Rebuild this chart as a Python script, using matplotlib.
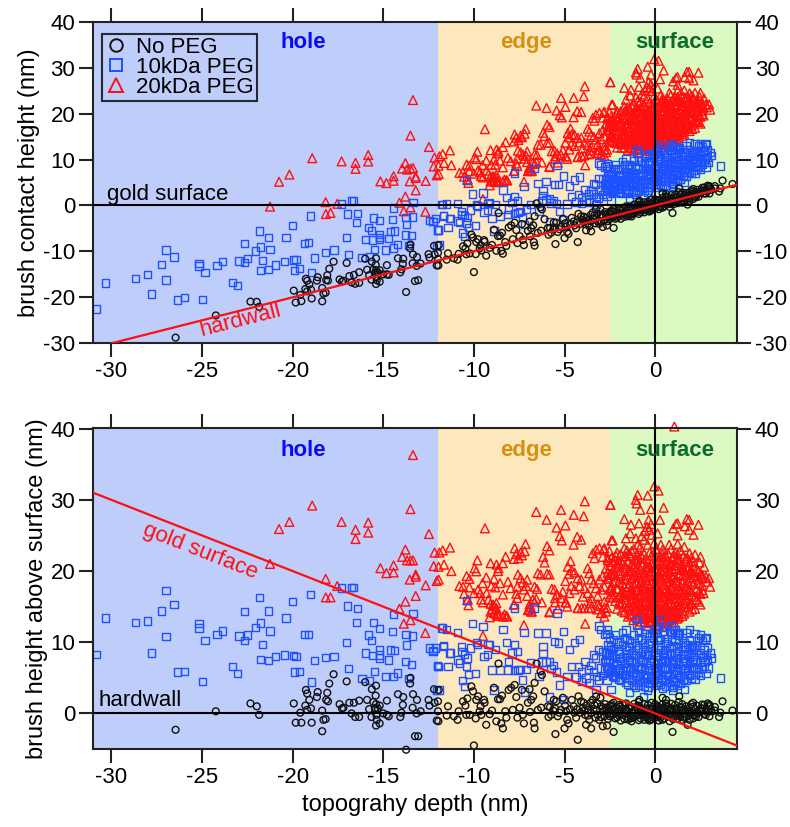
import numpy as np
import matplotlib
matplotlib.use("Agg")
import matplotlib.pyplot as plt
from matplotlib.lines import Line2D

plt.rcParams['font.family'] = ['Liberation Sans', 'DejaVu Sans']
plt.rcParams['axes.unicode_minus'] = False

# ---------------------------------------------------------------------------
# Data: (topography depth, brush height above surface) in nm.
# Brush contact height = height above surface + topography depth.
# ---------------------------------------------------------------------------
no_peg_hole = [
    (-26.46, -2.3), (-24.24, 0.3), (-22.33, 1.4), (-21.98, 1.0), (-21.85, -0.2), (-19.94, 1.4),
    (-19.83, -1.3), (-19.52, -1.3), (-19.58, 0.1), (-19.3, 1.1), (-19.2, 0.5), (-19.27, 3.3),
    (-19.2, 2.8), (-19.08, 1.9), (-18.99, 0.7), (-18.95, -1.3), (-18.66, 2.3), (-18.62, 3.0),
    (-18.37, 0.4), (-18.37, -2.5), (-18.3, -0.9), (-18.18, -0.8), (-18.15, 1.9), (-18.05, 1.7),
    (-18.09, 2.9), (-17.98, 4.2), (-17.74, 5.5), (-17.41, 1.3), (-17.28, 0.7), (-17.2, 0.8),
    (-17.02, 4.5), (-16.87, 1.5), (-16.62, 1.5), (-16.75, 0.0), (-16.55, -0.5), (-16.33, -0.5),
    (-16.33, 1.8), (-16.0, 4.4), (-15.89, 1.9), (-15.78, 0.6), (-15.65, -0.5), (-15.63, 3.4),
    (-15.55, 1.6), (-15.46, 0.7), (-15.42, 0.7), (-15.4, 1.3), (-15.38, -0.2), (-15.36, -0.9),
    (-15.4, -1.7), (-15.42, 2.5), (-15.4, 3.9), (-15.3, 0.7), (-15.2, 1.1), (-14.8, 1.8),
    (-15.0, 0.0), (-14.8, -0.2), (-14.7, -0.4), (-15.2, -1.4), (-14.19, 2.7), (-14.0, 0.1),
    (-14.06, -0.5), (-13.9, 2.3), (-13.92, 1.2), (-13.5, 5.0), (-13.52, 4.2), (-13.36, 2.7),
    (-13.38, 0.8), (-13.14, 1.9), (-13.16, 0.0), (-12.94, 0.3), (-13.25, -3.2), (-13.07, -3.2),
    (-13.74, -5.1), (-12.5, 1.9), (-12.45, 1.1), (-12.17, 1.5), (-12.2, 3.4), (-12.05, -1.0),
]
no_peg_edge = [
    (-11.94, 3.3), (-11.98, 1.7), (-11.98, 0.3), (-11.96, -1.1), (-11.43, 1.0), (-11.1, -0.4),
    (-10.84, 0.3), (-10.6, 1.7), (-10.47, 1.1), (-10.36, 2.1), (-10.42, -0.2), (-10.23, -0.2),
    (-10.14, 3.8), (-10.05, 3.1), (-10.0, -4.5), (-9.87, 1.9), (-9.77, 2.4), (-9.63, 1.0),
    (-9.68, 0.3), (-9.59, -0.2), (-9.44, 1.9), (-9.41, 1.5), (-9.32, -1.6), (-9.13, -0.1),
    (-8.89, 3.6), (-8.76, -1.1), (-8.67, 2.0), (-8.64, 7.0), (-8.56, 2.0), (-8.45, 2.5),
    (-8.49, -1.4), (-8.4, -2.1), (-8.27, 0.3), (-8.21, -0.6), (-8.08, 3.3), (-7.94, 3.6),
    (-7.75, 4.0), (-7.85, 0.5), (-7.66, 2.3), (-7.48, 0.8), (-7.35, 3.3), (-7.3, -0.2),
    (-7.24, -1.4), (-7.02, 1.5), (-6.93, 3.4), (-6.84, 1.9), (-6.73, 2.4), (-6.65, 4.3),
    (-6.69, -1.3), (-6.65, -2.1), (-6.54, 7.0), (-6.32, 5.9), (-6.25, 5.4), (-6.47, 0.5),
    (-6.29, 0.8), (-6.1, 3.1), (-5.92, 1.0), (-5.88, -0.5), (-5.74, -0.2), (-5.62, 0.4),
    (-5.52, 0.7), (-5.59, 1.9), (-5.46, 1.7), (-5.5, -2.9), (-5.37, -0.4), (-5.28, 0.1),
    (-5.19, 0.5), (-5.09, 2.2), (-4.97, 1.1), (-4.91, 0.3), (-4.85, -0.9), (-4.78, -1.4),
    (-5.0, -2.1), (-4.6, 1.9), (-4.49, 1.0), (-4.45, 0.1), (-4.36, -0.6), (-4.27, -3.7),
    (-4.23, 2.4), (-4.08, 1.7), (-3.94, 1.5), (-4.12, 0.1), (-3.99, 0.8), (-3.86, -0.2),
    (-3.79, 1.1), (-3.68, 0.5), (-3.63, -0.9), (-3.53, 0.1), (-3.44, 1.9), (-3.35, 1.2),
    (-3.24, 0.5), (-3.17, -0.2), (-3.09, -0.9), (-2.98, 1.0), (-2.89, 0.3), (-2.8, -0.4),
    (-2.71, 0.8), (-2.61, 0.1), (-2.52, 0.5), (-2.43, -0.2), (-2.34, 1.0), (-3.26, 2.4),
    (-3.02, 2.2), (-2.89, -1.8), (-2.65, -1.7), (-3.81, -1.6), (-3.53, -2.1), (-3.9, 0.4),
    (-3.7, -0.3), (-3.4, 0.6), (-3.2, 1.4), (-3.0, -0.5), (-2.9, 0.7), (-2.75, 1.3),
    (-2.6, -0.8), (-3.55, 1.5), (-3.3, -0.6), (-4.3, 0.6), (-4.7, 0.6), (-5.8, 0.9),
    (-6.9, 0.2), (-7.6, -0.6), (-9.0, 0.4), (-9.9, -0.7), (-10.9, -0.9), (-11.5, -0.3),
]
no_peg_surface = [
    (-2.3, 1.5), (-1.6, 1.4), (-0.9, 1.6), (-0.2, 1.5), (0.6, 1.4), (1.3, 1.6), (2.1, 1.5), (2.9, 1.4),
    (-2.5, 1.1), (-2.0, 1.2), (-1.4, 1.0), (-0.9, 1.1), (-0.4, 1.2), (0.1, 1.0), (0.6, 1.1),
    (1.1, 1.2), (1.7, 1.0), (2.3, 1.1), (3.0, 1.2),
    (-2.2, 0.8), (-1.8, 0.7), (-1.3, 0.9), (-0.8, 0.8), (-0.3, 0.7), (0.2, 0.9), (0.5, 0.8),
    (0.9, 0.7), (1.4, 0.9), (1.9, 0.8), (2.6, 0.7), (3.3, 0.9),
    (-2.4, 0.5), (-2.0, 0.4), (-1.6, 0.6), (-1.1, 0.5), (-0.6, 0.4), (-0.2, 0.6), (0.1, 0.5),
    (0.4, 0.4), (0.8, 0.6), (1.2, 0.5), (1.7, 0.4), (2.2, 0.6), (2.8, 0.5),
    (-2.6, 0.2), (-2.1, 0.3), (-1.7, 0.1), (-1.3, 0.2), (-0.9, 0.3), (-0.5, 0.1), (-0.1, 0.2),
    (0.3, 0.3), (0.6, 0.1), (1.0, 0.2), (1.5, 0.3), (2.0, 0.1), (2.5, 0.2), (3.1, 0.3), (3.6, 0.1),
    (-2.3, -0.1), (-1.9, 0.0), (-1.4, -0.2), (-1.0, -0.1), (-0.7, 0.0), (-0.3, -0.2), (0.0, -0.1),
    (0.4, 0.0), (0.7, -0.2), (1.2, -0.1), (1.6, 0.0), (2.2, -0.2), (2.7, -0.1),
    (-2.5, -0.4), (-2.0, -0.3), (-1.5, -0.5), (-1.1, -0.4), (-0.6, -0.3), (-0.2, -0.5), (0.2, -0.4),
    (0.6, -0.3), (0.9, -0.5), (1.4, -0.4), (1.9, -0.3), (2.4, -0.5), (3.0, -0.4),
    (-2.2, -0.7), (-1.7, -0.8), (-1.2, -0.6), (-0.8, -0.7), (-0.4, -0.8), (0.0, -0.6), (0.5, -0.7),
    (1.0, -0.8), (1.6, -0.6), (2.1, -0.7),
    (-1.9, -1.0), (-1.3, -1.1), (-0.6, -0.9), (0.2, -1.0), (0.8, -1.1), (1.5, -0.9),
    (-2.29, -2.6), (0.96, -2.6), (1.79, -1.6), (3.72, 1.7), (4.27, 0.4), (3.53, -0.5),
    (0.41, 2.2), (0.6, 1.9), (1.33, 2.4), (-0.87, 1.9), (2.71, 1.2), (2.98, 1.0),
    (2.52, 0.7), (2.16, -0.2), (-0.32, -1.0), (-1.33, -0.7),
    (-2.4, 1.3), (-1.8, 1.25), (-1.15, 1.35), (-0.6, 1.3), (0.0, 1.3), (0.4, 1.25), (0.9, 1.35),
    (1.5, 1.3), (2.0, 1.3), (2.6, 1.25),
    (-2.7, 0.65), (-1.95, 0.95), (-1.45, 0.7), (-1.0, 0.95), (-0.5, 0.7), (-0.05, 0.95),
    (0.35, 0.65), (0.7, 0.95), (1.1, 0.7), (1.6, 0.65), (2.1, 0.95), (2.45, 0.45), (3.05, 0.65),
    (-2.2, 0.05), (-1.55, 0.35), (-1.15, 0.05), (-0.75, 0.3), (-0.4, 0.15), (0.15, 0.35),
    (0.5, -0.05), (0.85, 0.35), (1.3, 0.1), (1.8, 0.25), (2.35, 0.1), (2.85, 0.2), (3.3, 0.4),
    (-2.1, -0.55), (-1.75, -0.2), (-1.3, -0.45), (-0.85, -0.25), (-0.45, -0.5), (-0.1, -0.3),
    (0.3, -0.6), (0.75, -0.45), (1.15, -0.35), (1.7, -0.5), (2.25, -0.45), (2.8, -0.2),
    (-1.5, -0.85), (-0.9, -0.95), (-0.2, -0.85), (0.4, -0.9), (1.25, -0.75), (1.9, -0.9),
]

peg10_hole = [
    (-30.83, 8.3), (-30.31, 13.4), (-28.68, 12.8), (-28.02, 13.0), (-27.78, 8.5), (-27.25, 14.4),
    (-26.99, 17.3), (-26.99, 10.8), (-26.55, 15.3), (-26.35, 5.8), (-25.96, 5.9), (-25.17, 12.6),
    (-25.17, 12.0), (-24.83, 10.2), (-24.97, 4.5), (-24.17, 11.1), (-23.86, 11.6), (-23.32, 6.6),
    (-23.06, 5.6), (-22.97, 10.9), (-22.66, 10.2), (-22.5, 11.0), (-22.65, 14.3), (-22.04, 12.1),
    (-21.83, 16.3), (-21.76, 12.7), (-21.67, 9.7), (-21.78, 7.6), (-21.34, 7.4), (-21.32, 14.4),
    (-21.25, 11.6), (-20.95, 8.0), (-20.44, 8.2), (-20.37, 13.4), (-20.0, 15.7), (-19.94, 8.1),
    (-19.82, 8.0), (-19.91, 5.8), (-19.62, 5.9), (-19.36, 11.1), (-19.12, 11.1), (-19.03, 16.7),
    (-18.95, 4.4), (-18.81, 7.4), (-18.18, 7.9), (-17.71, 8.0), (-17.32, 17.6), (-16.75, 17.7),
    (-16.64, 17.7), (-16.97, 15.1), (-16.42, 14.7), (-16.48, 12.8), (-17.04, 10.0), (-16.93, 6.3),
    (-15.83, 11.0), (-15.98, 8.5), (-15.65, 10.2), (-15.54, 12.8), (-15.2, 8.9), (-15.2, 8.2),
    (-15.2, 7.8), (-15.6, 8.1), (-15.49, 5.9), (-15.75, 4.6), (-16.17, 4.9), (-15.21, 11.9),
    (-14.89, 5.2), (-14.72, 7.5), (-14.61, 8.9), (-14.39, 8.8), (-14.5, 11.5), (-14.44, 13.9),
    (-14.22, 5.7), (-14.44, 5.2), (-13.74, 11.1), (-13.72, 9.6), (-13.76, 7.3), (-13.6, 4.9),
    (-13.45, 6.9), (-13.36, 14.0), (-13.39, 10.9), (-12.46, 9.2), (-12.11, 9.2), (-12.26, 8.8),
    (-12.02, 6.7), (-12.05, 3.2), (-12.25, 8.7),
]
peg10_edge = [
    (-11.98, 6.6), (-11.9, 3.3), (-11.79, 12.0), (-11.5, 11.8), (-11.68, 9.4), (-11.43, 6.6),
    (-11.35, 8.5), (-11.28, 8.5), (-10.91, 11.4), (-10.88, 7.5), (-10.8, 7.1), (-10.69, 9.4),
    (-10.65, 8.7), (-10.51, 8.3), (-10.42, 6.6), (-10.36, 7.8), (-10.62, 4.6), (-10.51, 3.8),
    (-10.29, 5.5), (-10.2, 9.2), (-10.07, 12.6), (-9.92, 5.6), (-9.87, 10.0), (-9.81, 9.7),
    (-9.5, 12.2), (-9.44, 8.0), (-9.26, 8.3), (-9.22, 9.7), (-9.13, 9.7), (-9.0, 6.1),
    (-8.89, 3.3), (-8.82, 9.0), (-8.56, 6.1), (-8.4, 11.8), (-8.21, 10.0), (-8.12, 6.1),
    (-8.08, 7.3), (-7.9, 8.5), (-7.75, 9.7), (-7.61, 8.7), (-7.75, 6.0), (-7.57, 6.1),
    (-7.46, 6.2), (-7.3, 4.7), (-7.24, 11.4), (-7.2, 3.0), (-7.08, 6.2), (-6.87, 7.1),
    (-6.47, 11.3), (-6.03, 11.3), (-6.18, 9.4), (-6.18, 8.4), (-6.4, 5.2), (-6.25, 7.2),
    (-6.03, 7.2), (-5.81, 7.3), (-5.74, 6.3), (-5.81, 2.3), (-5.62, 6.7), (-5.55, 10.1),
    (-5.33, 9.9), (-5.44, 5.8), (-5.26, 4.0), (-5.07, 11.5), (-4.87, 5.2), (-4.73, 9.0),
    (-4.63, 6.6), (-5.04, 2.0), (-4.45, 10.0), (-4.17, 10.4), (-4.23, 6.6), (-4.08, 5.8),
    (-3.86, 7.3), (-3.68, 6.2), (-3.53, 6.7), (-3.39, 8.2), (-3.28, 7.8), (-3.13, 9.0),
    (-3.09, 12.3), (-2.98, 11.8), (-2.76, 11.1), (-3.13, 4.7), (-2.89, 5.3), (-2.65, 4.7),
    (-3.02, 6.4), (-2.8, 6.1), (-2.61, 6.6), (-2.43, 5.9), (-2.34, 5.2), (-3.26, 3.4),
    (-2.89, 8.7), (-2.71, 8.5), (-2.58, 9.0), (-2.52, 7.5), (-2.76, 7.3), (-3.39, 5.9),
    (-3.25, 5.2), (-3.81, 5.0), (-3.63, 4.3), (-4.36, 5.1), (-4.08, 4.5), (-10.4, 15.9),
    (-7.75, 14.8), (-6.69, 14.8), (-5.42, 14.1), (-11.74, 12.0), (-11.66, 9.5), (-11.97, 6.6),
]
peg10_surface = [
    (-1.0, 12.4), (0.2, 12.2), (0.9, 12.3),
    (-1.6, 11.7), (-0.5, 11.8), (0.4, 11.6), (1.1, 11.7), (1.9, 11.8),
    (-2.2, 11.1), (-1.2, 11.0), (-0.3, 11.2), (0.5, 11.1), (1.3, 11.0), (2.2, 11.2),
    (-2.5, 10.6), (-1.7, 10.5), (-0.9, 10.7), (-0.1, 10.6), (0.7, 10.5), (1.5, 10.7), (2.4, 10.6),
    (-2.0, 10.1), (-1.4, 10.2), (-0.6, 10.0), (0.1, 10.2), (0.9, 10.1), (1.6, 10.0), (2.6, 10.2),
    (-2.6, 9.6), (-1.8, 9.7), (-1.1, 9.5), (-0.4, 9.7), (0.3, 9.6), (1.0, 9.5), (1.8, 9.7), (2.3, 9.6),
    (-2.3, 9.1), (-1.6, 9.0), (-0.9, 9.2), (-0.2, 9.1), (0.5, 9.0), (1.2, 9.2), (1.9, 9.1), (2.7, 9.0),
    (-2.7, 8.6), (-2.0, 8.7), (-1.3, 8.5), (-0.7, 8.7), (0.0, 8.6), (0.6, 8.5), (1.3, 8.7),
    (2.0, 8.6), (2.5, 8.5),
    (-2.4, 8.1), (-1.8, 8.0), (-1.1, 8.2), (-0.5, 8.1), (0.2, 8.0), (0.8, 8.2), (1.5, 8.1),
    (2.1, 8.0), (2.8, 8.2),
    (-2.6, 7.6), (-2.0, 7.7), (-1.4, 7.5), (-0.8, 7.6), (-0.2, 7.7), (0.4, 7.5), (1.0, 7.6),
    (1.6, 7.7), (2.3, 7.5), (2.9, 7.6),
    (-2.3, 7.1), (-1.7, 7.0), (-1.1, 7.2), (-0.5, 7.1), (0.1, 7.0), (0.7, 7.2), (1.3, 7.1),
    (1.9, 7.0), (2.5, 7.2),
    (-2.7, 6.6), (-2.1, 6.7), (-1.5, 6.5), (-0.9, 6.6), (-0.3, 6.7), (0.3, 6.5), (0.9, 6.6),
    (1.5, 6.7), (2.1, 6.5), (2.7, 6.6),
    (-2.4, 6.1), (-1.8, 6.0), (-1.2, 6.2), (-0.6, 6.1), (0.0, 6.0), (0.6, 6.2), (1.2, 6.1),
    (1.8, 6.0), (2.4, 6.2),
    (-2.6, 5.6), (-2.0, 5.7), (-1.4, 5.5), (-0.8, 5.6), (-0.2, 5.7), (0.4, 5.5), (1.0, 5.6),
    (1.6, 5.7), (2.2, 5.5), (2.8, 5.6),
    (-2.2, 5.1), (-1.6, 5.0), (-1.0, 5.2), (-0.4, 5.1), (0.2, 5.0), (0.8, 5.2), (1.4, 5.1), (2.0, 5.0),
    (-1.9, 4.6), (-1.3, 4.7), (-0.7, 4.5), (-0.1, 4.6), (0.5, 4.7), (1.1, 4.5), (1.7, 4.6),
    (-1.5, 4.1), (-0.9, 4.0), (-0.3, 4.2), (0.3, 4.1), (0.9, 4.0), (1.4, 4.2),
    (-1.1, 3.6), (-0.4, 3.7), (0.4, 3.5), (1.0, 3.6),
    (-2.1, 9.9), (-1.3, 9.9), (-0.3, 9.9), (0.6, 9.8), (1.3, 9.9), (2.0, 9.4),
    (-2.4, 8.9), (-1.6, 8.4), (-1.0, 8.9), (-0.4, 8.4), (0.3, 8.9), (0.9, 8.4), (1.6, 8.4), (2.3, 8.9),
    (-2.2, 7.9), (-1.5, 7.9), (-0.9, 7.9), (-0.2, 8.3), (0.5, 7.8), (1.2, 7.9), (1.9, 7.9), (2.6, 7.9),
    (-2.5, 7.3), (-1.9, 7.4), (-1.3, 7.3), (-0.7, 7.4), (-0.1, 7.3), (0.5, 7.4), (1.1, 7.3),
    (1.7, 7.4), (2.2, 7.3),
    (-2.2, 6.3), (-1.6, 6.4), (-1.0, 6.3), (-0.4, 6.4), (0.2, 6.3), (0.8, 6.4), (1.4, 6.3),
    (2.0, 6.4), (2.6, 6.3),
    (-2.3, 5.4), (-1.7, 5.3), (-1.1, 5.4), (-0.5, 5.3), (0.1, 5.4), (0.7, 5.3), (1.3, 5.4),
    (1.9, 5.3), (2.5, 5.3),
    (-1.6, 4.4), (-1.0, 4.3), (-0.4, 4.4), (0.2, 4.3), (0.8, 4.4), (1.4, 4.3),
    (-1.8, 11.35), (-0.9, 11.45), (0.0, 11.35), (0.85, 11.4), (1.7, 11.3), (2.5, 11.0),
    (-2.3, 10.35), (-1.55, 10.35), (-0.75, 10.45), (0.25, 10.4), (1.1, 10.35), (1.9, 10.3),
    (2.75, 10.45),
    (-2.45, 9.35), (-1.45, 9.35), (-0.6, 9.4), (0.15, 9.35), (0.8, 9.25), (1.5, 9.4), (2.15, 9.25),
    (2.9, 9.3),
    (-2.55, 8.35), (-1.95, 8.35), (-1.2, 8.25), (-0.35, 8.35), (0.45, 8.25), (1.1, 8.35),
    (1.8, 8.3), (2.5, 8.3), (3.05, 8.5),
    (-2.75, 7.15), (-2.1, 7.05), (-1.5, 7.15), (-0.8, 7.25), (-0.25, 7.1), (0.35, 7.15),
    (0.95, 7.05), (1.55, 7.15), (2.05, 7.2), (2.75, 7.3),
    (-2.55, 6.35), (-1.95, 6.25), (-1.35, 6.45), (-0.75, 6.3), (-0.05, 6.4), (0.55, 6.35),
    (1.1, 6.45), (1.65, 6.35), (2.3, 6.4), (2.95, 6.4),
    (-2.45, 5.8), (-1.85, 5.45), (-1.25, 5.8), (-0.6, 5.45), (0.05, 5.8), (0.6, 5.5), (1.2, 5.8),
    (1.8, 5.45), (2.4, 5.8),
    (-2.0, 4.85), (-1.45, 4.9), (-0.85, 4.85), (-0.25, 4.9), (0.35, 4.85), (0.95, 4.9),
    (1.55, 4.85), (2.2, 4.8),
    (-1.2, 3.95), (-0.6, 3.85), (0.05, 3.95), (0.6, 3.8), (1.2, 3.95),
    (-2.65, 11.8), (-2.65, 11.2), (3.62, 5.0), (3.11, 7.8), (2.85, 10.7), (2.06, 9.5),
    (1.61, 3.4), (1.33, 11.3), (1.2, 11.2), (0.87, 12.3), (1.02, 11.8), (0.23, 13.1),
    (0.05, 11.8), (-1.0, 13.2), (-0.6, 11.2), (-2.43, 3.4), (-1.42, 2.9), (-0.41, 3.3),
    (0.96, 3.3), (-0.63, 2.4),
]

peg20_hole = [
    (-13.36, 36.3), (-18.92, 29.2), (-20.75, 25.9), (-20.18, 26.9), (-17.3, 26.9), (-16.53, 25.8),
    (-15.83, 26.8), (-15.83, 25.4), (-16.53, 24.5), (-13.5, 28.7), (-12.48, 25.2), (-13.78, 23.0),
    (-13.96, 22.0), (-13.69, 21.5), (-13.5, 21.5), (-13.36, 21.5), (-12.17, 22.6), (-12.22, 20.7),
    (-15.16, 20.4), (-14.83, 19.7), (-14.43, 20.8), (-14.43, 19.8), (-13.21, 19.5), (-13.21, 19.2),
    (-13.54, 18.8), (-12.66, 18.0), (-13.21, 16.5), (-13.78, 15.7), (-14.11, 14.7), (-13.5, 13.1),
    (-13.87, 12.6), (-12.68, 11.3), (-12.05, 18.6), (-21.25, 21.0), (-18.18, 18.9), (-17.54, 17.9),
    (-18.17, 16.3), (-17.91, 16.3),
]
peg20_edge = [
    (-11.9, 22.6), (-11.95, 20.6), (-11.94, 18.8), (-11.72, 22.9), (-11.32, 23.3), (-11.65, 20.9),
    (-11.24, 20.0), (-9.81, 21.5), (-9.39, 26.0), (-10.4, 19.3), (-10.25, 18.9), (-10.8, 17.9),
    (-10.6, 17.8), (-10.25, 17.7), (-10.54, 16.8), (-10.34, 16.0), (-10.3, 15.2), (-9.96, 20.4),
    (-9.87, 19.96), (-9.77, 17.4), (-9.99, 16.9), (-9.65, 16.9), (-9.52, 18.3), (-9.32, 19.1),
    (-9.08, 21.1), (-8.75, 20.9), (-8.64, 20.4), (-8.67, 20.0), (-8.4, 21.1), (-8.25, 22.0),
    (-8.89, 18.9), (-9.04, 17.9), (-8.82, 17.7), (-9.3, 16.9), (-9.6, 16.0), (-9.2, 16.0),
    (-8.95, 15.3), (-8.76, 14.8), (-9.08, 14.3), (-8.89, 14.1), (-8.73, 13.9), (-8.31, 13.9),
    (-8.16, 13.6), (-8.56, 18.3), (-8.4, 16.7), (-8.12, 18.5), (-7.75, 23.2), (-7.66, 22.4),
    (-7.42, 22.6), (-7.35, 22.2), (-7.2, 22.8), (-7.15, 23.8), (-7.79, 21.7), (-7.54, 21.8),
    (-7.97, 17.6), (-7.61, 17.8), (-7.3, 18.4), (-7.06, 18.8), (-7.11, 17.9), (-7.24, 17.4),
    (-7.57, 19.5), (-7.42, 19.0), (-7.66, 16.8), (-7.61, 16.2), (-7.79, 15.3), (-7.06, 16.5),
    (-6.93, 15.3), (-6.87, 14.95), (-6.56, 28.3), (-6.65, 17.8), (-6.52, 17.5), (-6.75, 16.0),
    (-6.56, 16.1), (-6.47, 19.7), (-6.32, 19.5), (-6.18, 22.0), (-6.1, 21.2), (-5.99, 27.2),
    (-5.96, 23.5), (-5.83, 22.9), (-5.96, 19.6), (-5.83, 19.5), (-5.7, 17.5), (-5.55, 17.4),
    (-5.52, 16.2), (-5.41, 16.7), (-5.44, 26.1), (-5.26, 24.9), (-5.15, 24.3), (-4.95, 26.4),
    (-5.19, 28.6), (-4.67, 21.4), (-4.82, 20.6), (-4.6, 20.1), (-4.76, 19.6), (-4.45, 19.8),
    (-4.95, 18.6), (-4.63, 17.9), (-4.45, 17.4), (-4.73, 16.9), (-4.49, 27.9), (-3.94, 27.7),
    (-3.88, 29.8), (-4.5, 23.7), (-4.3, 24.8), (-4.08, 24.4), (-5.09, 17.1), (-5.19, 16.2),
    (-4.91, 15.6), (-4.85, 15.0), (-5.83, 14.2), (-5.37, 14.7), (-4.27, 19.0), (-4.08, 18.8),
    (-4.17, 17.9), (-3.9, 17.6), (-3.99, 16.4), (-3.72, 20.4), (-3.63, 19.7), (-3.53, 18.8),
    (-3.39, 18.3), (-3.26, 17.6), (-3.72, 16.9), (-3.53, 16.2), (-3.17, 16.5), (-2.98, 17.4),
    (-3.07, 18.8), (-2.89, 19.3), (-3.44, 22.5), (-3.26, 23.0), (-3.07, 23.2), (-2.84, 23.0),
    (-2.89, 22.0), (-2.61, 21.5), (-2.52, 22.8), (-2.43, 19.7), (-2.61, 18.9), (-2.47, 17.6),
    (-2.4, 16.7), (-2.8, 15.7), (-3.07, 15.1), (-3.2, 14.6), (-3.53, 14.8), (-3.9, 14.8),
    (-4.27, 14.8), (-2.65, 14.8), (-2.98, 14.1), (-2.8, 13.6), (-2.47, 29.3), (-2.34, 24.3),
    (-2.71, 20.4), (-3.35, 21.8), (-9.13, 13.5), (-8.67, 14.0), (-8.4, 13.6), (-7.02, 14.5),
    (-6.84, 14.3), (-10.36, 15.9), (-9.5, 15.6), (-9.08, 15.4), (-8.89, 15.1), (-8.76, 15.5),
    (-9.0, 14.6), (-8.64, 13.7), (-8.21, 13.7), (-7.79, 15.3), (-7.24, 12.4), (-9.5, 10.9),
    (-6.93, 14.6), (-6.8, 14.3), (-6.65, 15.7), (-6.25, 15.6), (-5.83, 14.3), (-5.52, 15.6),
    (-4.95, 15.6), (-4.27, 14.8), (-4.05, 14.8), (-3.68, 14.8), (-3.86, 12.6), (-3.57, 15.5),
    (-3.17, 15.3), (-2.8, 14.9), (-2.71, 14.3), (-2.98, 14.1),
]
peg20_surface = [
    (1.06, 40.3),
    (-0.05, 31.9), (0.19, 31.3), (-0.96, 30.7), (-1.06, 30.0), (-1.02, 29.5), (-0.41, 30.6),
    (-0.82, 28.6), (-0.23, 28.7), (0.47, 28.9), (-2.47, 29.3), (-1.7, 27.3), (-1.33, 26.5),
    (-0.89, 26.7), (-0.36, 27.2), (-0.23, 26.6), (-0.45, 26.2), (-0.56, 25.6), (-0.32, 25.8),
    (0.27, 27.2), (-1.37, 25.3), (-1.61, 24.6), (-1.06, 24.6), (-0.74, 24.9), (-0.18, 25.1),
    (0.14, 25.3), (1.0, 26.0), (1.15, 26.6), (1.24, 26.7), (1.75, 27.3), (1.88, 27.2),
    (1.64, 26.3), (1.88, 25.8), (2.12, 25.1), (2.39, 26.5), (1.24, 25.0), (-2.4, 24.3),
    (0.78, 23.7), (1.24, 23.8), (1.61, 23.4), (0.87, 23.1), (0.32, 23.7), (0.41, 23.0),
    (-0.05, 23.9), (0.05, 23.1), (-0.6, 24.4), (-0.41, 23.7), (-0.82, 23.4), (-1.7, 23.2),
    (-1.55, 22.9), (-1.18, 23.1), (-0.96, 23.7), (-2.62, 21.8), (-2.8, 23.2), (-2.03, 21.4),
    (-2.07, 20.9), (-1.61, 22.1), (-1.37, 22.2), (-1.11, 21.6), (-0.78, 22.2), (-0.51, 21.8),
    (0.6, 22.1), (0.96, 21.8), (1.27, 21.6), (1.57, 22.1), (1.79, 21.8), (0.23, 21.4),
    (0.5, 20.9), (0.87, 21.1), (1.2, 20.8), (1.51, 20.2), (1.33, 19.6), (2.06, 19.8),
    (2.34, 19.2), (2.61, 19.0), (2.98, 19.0), (3.04, 17.8), (2.43, 17.1), (2.67, 16.9),
    (2.01, 16.7), (2.3, 16.0), (-2.62, 19.7), (-2.25, 19.5), (-2.43, 17.6), (-2.8, 17.8),
    (-2.52, 16.4),
    (-2.1, 22.6), (-1.3, 22.8), (-0.6, 22.4), (0.1, 22.7), (0.7, 22.5), (1.4, 22.9), (2.2, 22.3),
    (-2.4, 21.9), (-1.7, 22.1), (-0.9, 21.8), (-0.2, 22.2), (0.4, 21.9), (1.0, 22.1), (1.7, 21.8),
    (2.5, 22.0),
    (-2.2, 21.5), (-1.5, 21.3), (-1.0, 21.6), (-0.4, 21.2), (0.2, 21.5), (0.6, 21.3), (1.2, 21.6),
    (1.9, 21.2),
    (-2.5, 20.8), (-1.8, 21.0), (-1.2, 20.7), (-0.7, 20.9), (-0.1, 20.8), (0.4, 21.0), (0.9, 20.7),
    (1.5, 20.9), (2.1, 20.8), (2.7, 20.6),
    (-2.3, 20.2), (-1.6, 20.4), (-1.1, 20.1), (-0.5, 20.3), (0.0, 20.4), (0.5, 20.2), (1.1, 20.4),
    (1.6, 20.1), (2.3, 20.3),
    (-2.0, 19.7), (-1.4, 19.9), (-0.8, 19.6), (-0.3, 19.8), (0.2, 19.7), (0.7, 19.9), (1.3, 19.6),
    (1.9, 19.8), (2.5, 19.7),
    (-2.6, 19.1), (-1.9, 19.3), (-1.3, 19.0), (-0.9, 19.2), (-0.4, 19.3), (0.1, 19.1), (0.6, 19.2),
    (1.0, 19.0), (1.5, 19.3), (2.0, 19.1), (2.8, 19.2),
    (-2.2, 18.6), (-1.6, 18.8), (-1.0, 18.5), (-0.5, 18.7), (-0.1, 18.6), (0.3, 18.8), (0.8, 18.5),
    (1.2, 18.7), (1.8, 18.6), (2.4, 18.8),
    (-2.4, 18.0), (-1.8, 18.2), (-1.2, 18.1), (-0.7, 17.9), (-0.2, 18.2), (0.2, 18.0), (0.5, 18.3),
    (1.0, 18.1), (1.4, 17.9), (2.1, 18.2), (2.6, 18.0),
    (-2.1, 17.5), (-1.5, 17.7), (-1.0, 17.4), (-0.6, 17.6), (-0.3, 17.8), (0.1, 17.5), (0.4, 17.6),
    (0.9, 17.7), (1.3, 17.4), (1.7, 17.6), (2.3, 17.5),
    (-2.3, 17.1), (-1.7, 16.9), (-1.2, 17.0), (-0.8, 17.2), (-0.4, 16.9), (0.0, 17.1), (0.3, 16.9),
    (0.7, 17.0), (1.1, 17.2), (1.6, 16.9), (2.0, 17.1), (2.5, 16.8),
    (-2.0, 16.4), (-1.4, 16.6), (-0.9, 16.3), (-0.5, 16.5), (-0.1, 16.6), (0.2, 16.4), (0.6, 16.5),
    (1.0, 16.3), (1.5, 16.6), (2.2, 16.4),
    (-2.2, 15.8), (-1.6, 16.0), (-1.1, 15.9), (-0.7, 15.7), (-0.3, 16.0), (0.1, 15.8), (0.5, 15.9),
    (0.8, 16.1), (1.3, 15.8), (1.8, 15.9), (2.4, 15.7),
    (-1.9, 15.3), (-1.3, 15.5), (-0.8, 15.2), (-0.4, 15.4), (0.0, 15.5), (0.4, 15.3), (0.9, 15.4),
    (1.4, 15.2), (2.0, 15.4),
    (-2.1, 14.7), (-1.5, 14.9), (-1.0, 14.8), (-0.6, 14.6), (-0.2, 14.9), (0.2, 14.7), (0.6, 14.8),
    (1.1, 14.6), (1.6, 14.9), (2.2, 14.7),
    (-1.7, 14.2), (-1.1, 14.4), (-0.6, 14.1), (-0.1, 14.3), (0.3, 14.2), (0.8, 14.4), (1.3, 14.1),
    (1.9, 14.3),
    (-1.5, 13.6), (-0.9, 13.8), (-0.4, 13.5), (0.1, 13.7), (0.5, 13.8), (1.0, 13.6), (1.5, 13.7),
    (-1.2, 13.1), (-0.6, 13.3), (-0.2, 13.0), (0.3, 13.2), (0.8, 13.1), (1.2, 13.3),
    (-0.9, 12.5), (-0.3, 12.7), (0.2, 12.4), (0.6, 12.6),
    (-0.1, 12.0), (0.4, 12.2),
    (-1.9, 22.4), (-1.0, 22.3), (-0.3, 22.6), (0.4, 22.4), (1.1, 22.6), (1.9, 22.5),
    (-2.0, 21.1), (-1.3, 21.0), (-0.8, 21.2), (-0.2, 21.0), (0.3, 21.2), (0.8, 21.0), (1.4, 21.1),
    (2.1, 21.4),
    (-1.9, 20.0), (-1.3, 20.0), (-0.8, 20.2), (-0.2, 20.0), (0.3, 20.1), (0.8, 20.0), (1.4, 20.2),
    (2.0, 20.0),
    (-2.3, 19.5), (-1.6, 19.5), (-1.1, 19.4), (-0.6, 19.5), (-0.1, 19.4), (0.4, 19.5), (0.9, 19.4),
    (1.7, 19.5), (2.2, 19.4),
    (-2.0, 18.4), (-1.4, 18.3), (-0.8, 18.4), (-0.4, 18.3), (0.0, 18.4), (0.6, 18.6), (1.0, 18.4),
    (1.5, 18.3), (2.0, 18.5),
    (-1.8, 17.3), (-1.3, 17.3), (-0.9, 17.8), (-0.5, 17.2), (-0.1, 17.3), (0.2, 17.3), (0.6, 17.3),
    (0.9, 17.4), (1.4, 17.3), (1.9, 17.3),
    (-1.9, 16.7), (-1.2, 16.7), (-0.7, 16.8), (-0.3, 16.7), (0.1, 16.8), (0.4, 16.7), (0.8, 16.8),
    (1.3, 16.7), (1.8, 16.6),
    (-1.8, 15.6), (-1.3, 15.7), (-0.9, 15.6), (-0.5, 15.7), (-0.1, 15.6), (0.3, 15.6), (0.7, 15.6),
    (1.1, 15.6), (1.6, 15.5),
    (-1.7, 15.0), (-1.2, 15.1), (-0.7, 15.0), (-0.3, 15.1), (0.1, 15.0), (0.5, 15.0), (1.0, 15.1),
    (1.3, 14.9), (1.8, 15.0),
    (-1.4, 14.0), (-0.8, 14.0), (-0.3, 14.0), (0.2, 14.1), (0.6, 14.0), (1.1, 14.0), (1.6, 14.0),
    (-1.0, 13.4), (-0.5, 13.4), (0.0, 13.4), (0.5, 13.4), (1.0, 13.4),
    (-0.6, 12.8), (0.0, 12.8), (0.4, 12.9),
    (-2.15, 22.1), (-1.45, 22.5), (-0.75, 22.0), (-0.05, 22.45), (0.55, 22.15), (1.25, 22.35),
    (2.0, 21.9),
    (-2.35, 21.25), (-1.65, 20.75), (-1.05, 21.35), (-0.45, 20.65), (0.1, 21.15), (0.7, 20.55),
    (1.3, 21.35), (1.85, 20.6), (2.45, 21.2),
    (-2.05, 20.55), (-1.45, 20.15), (-0.95, 19.85), (-0.35, 20.55), (0.35, 19.95), (0.95, 20.25),
    (1.75, 20.45), (2.4, 19.95),
    (-2.45, 19.45), (-1.75, 18.95), (-1.15, 19.65), (-0.55, 19.05), (0.25, 19.35), (0.75, 18.95),
    (1.35, 19.45), (1.9, 18.95), (2.6, 19.45),
    (-2.3, 18.35), (-1.7, 17.85), (-1.05, 18.25), (-0.55, 18.05), (0.05, 17.85), (0.45, 18.05),
    (1.15, 18.45), (1.65, 18.05), (2.35, 18.25), (2.85, 18.5),
    (-2.45, 17.35), (-1.85, 17.05), (-1.35, 16.75), (-0.7, 17.45), (-0.2, 16.95), (0.25, 17.15),
    (0.85, 16.85), (1.35, 16.95), (1.85, 17.45), (2.6, 17.3),
    (-2.35, 16.25), (-1.75, 16.35), (-1.2, 16.15), (-0.65, 16.25), (-0.05, 16.15), (0.45, 16.25),
    (1.15, 16.05), (1.7, 16.25), (2.3, 16.05),
    (-2.0, 15.55), (-1.45, 15.25), (-0.95, 15.35), (-0.15, 15.25), (0.6, 15.15), (1.2, 15.35),
    (1.85, 15.35), (2.5, 15.3),
    (-1.85, 14.45), (-1.3, 14.65), (-0.85, 14.45), (-0.35, 14.55), (0.05, 14.5), (0.45, 14.45),
    (0.95, 14.25), (1.5, 14.45), (2.05, 14.6),
    (-1.3, 13.85), (-0.65, 13.65), (-0.15, 13.75), (0.35, 13.65), (0.75, 13.75), (1.3, 13.5),
    (-0.8, 12.9), (-0.35, 12.95), (0.15, 13.1), (0.65, 12.95), (1.05, 12.8),
    (-0.4, 12.3), (0.1, 12.45), (0.8, 12.35),
]

# region boundaries along the depth axis (nm)
region_edges = [-31.0, -12.0, -2.5, 4.5]
region_names = ['hole', 'edge', 'surface']
region_fill = ['#bfcdfb', '#fde7bd', '#dcf9c2']
region_text = ['#0a0af5', '#d4920e', '#0c6a2c']

x_ticks = [-30, -25, -20, -15, -10, -5, 0]
top_yticks = [-30, -20, -10, 0, 10, 20, 30, 40]
bottom_yticks = [0, 10, 20, 30, 40]

series = [
    ('20kDa PEG', peg20_hole + peg20_edge + peg20_surface, '^', '#ff1010', 40),
    ('10kDa PEG', peg10_hole + peg10_edge + peg10_surface, 's', '#1d50ff', 28),
    ('No PEG', no_peg_hole + no_peg_edge + no_peg_surface, 'o', '#111111', 24),
]

TICK_FS = 16
LABEL_FS = 17

fig = plt.figure(figsize=(7.9, 8.27), dpi=100)
ax1 = fig.add_axes([0.1181, 0.5849, 0.8144, 0.3889])
ax2 = fig.add_axes([0.1181, 0.0943, 0.8144, 0.3882])

for ax in (ax1, ax2):
    for lo, hi, col in zip(region_edges[:-1], region_edges[1:], region_fill):
        ax.axvspan(lo, hi, color=col, lw=0, zorder=0)
    ax.set_xlim(region_edges[0], region_edges[-1])
    ax.set_xticks(x_ticks)
    ax.tick_params(axis='both', direction='out', length=10, width=1.5,
                   labelsize=TICK_FS, top=True, right=True, labelright=True,
                   colors='#222222', labelcolor='black', pad=3)
    for sp in ax.spines.values():
        sp.set_linewidth(1.5)
        sp.set_color('#222222')
    ax.axhline(0, color='black', lw=1.5, zorder=3)
    ax.axvline(0, color='black', lw=1.5, zorder=3)

ax1.set_ylim(-30, 40)
ax1.set_yticks(top_yticks)
ax2.set_ylim(-5, 40.1)
ax2.set_yticks(bottom_yticks)

for name, pts, mk, col, sz in series:
    arr = np.array(pts)
    depth = arr[:, 0]
    above = arr[:, 1]
    contact = above + depth
    ax1.scatter(depth, contact, s=sz, marker=mk, facecolors='none', edgecolors=col,
                linewidths=1.0, zorder=2)
    ax2.scatter(depth, above, s=sz, marker=mk, facecolors='none', edgecolors=col,
                linewidths=1.0, zorder=2, clip_on=False)

# hardwall / gold-surface reference lines
hw = np.array([-30.0, 4.5])
ax1.plot(hw, hw, color='#ff1010', lw=1.6, zorder=4)
gs = np.array([-31.0, 4.5])
ax2.plot(gs, -gs, color='#ff1010', lw=1.6, zorder=4)

ax1.set_ylabel('brush contact height (nm)', fontsize=LABEL_FS, labelpad=2)
ax2.set_ylabel('brush height above surface (nm)', fontsize=LABEL_FS, labelpad=2)
ax2.set_xlabel('topograhy depth (nm)', fontsize=LABEL_FS, labelpad=4)

# region labels
centers = [-19.4, -7.1, 1.1]
for ax, yy in ((ax1, 35.4), (ax2, 37.0)):
    for cx, name, tc in zip(centers, region_names, region_text):
        ax.text(cx, yy, name, color=tc, fontsize=16, fontweight='bold',
                ha='center', va='center', zorder=5)

ax1.text(-26.9, 1.2, 'gold surface', fontsize=16, ha='center', va='baseline', zorder=5)
ax2.text(-28.4, 1.0, 'hardwall', fontsize=16, ha='center', va='baseline', zorder=5)

ang1 = ax1.transData.transform_angles(np.array([45.0]), np.array([[-22.9, -25.1]]))[0]
ax1.text(-22.9, -25.1, 'hardwall', color='#ff1010', fontsize=16, rotation=ang1,
         rotation_mode='anchor', ha='center', va='center', zorder=5)
ang2 = ax2.transData.transform_angles(np.array([-45.0]), np.array([[-25.1, 22.8]]))[0]
ax2.text(-25.1, 22.8, 'gold surface', color='#ff1010', fontsize=16, rotation=ang2,
         rotation_mode='anchor', ha='center', va='center', zorder=5)

handles = [
    Line2D([], [], ls='none', marker='o', ms=9, mfc='none', mec='#111111', mew=1.4),
    Line2D([], [], ls='none', marker='s', ms=9, mfc='none', mec='#1d50ff', mew=1.4),
    Line2D([], [], ls='none', marker='^', ms=10, mfc='none', mec='#ff1010', mew=1.4),
]
leg = ax1.legend(handles, ['No PEG', '10kDa PEG', '20kDa PEG'], loc='upper left',
                 bbox_to_anchor=(0.013, 0.962), borderaxespad=0, fontsize=16,
                 frameon=True, fancybox=False, handlelength=1.0, handletextpad=0.4,
                 labelspacing=-0.05, borderpad=0.15)
leg.get_frame().set_edgecolor('black')
leg.get_frame().set_linewidth(1.5)
leg.get_frame().set_facecolor('none')
leg.set_zorder(6)

fig.savefig('out.png', dpi=100)
